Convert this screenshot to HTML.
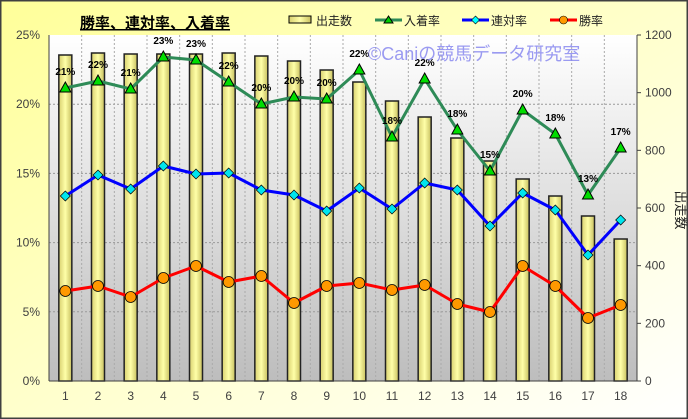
<!DOCTYPE html>
<html><head><meta charset="utf-8"><style>
html,body{margin:0;padding:0;width:688px;height:419px;overflow:hidden}
text{font-family:"Liberation Sans","Noto Sans CJK JP",sans-serif}
</style></head><body>
<svg width="688" height="419" xmlns="http://www.w3.org/2000/svg">
<defs>
<linearGradient id="bg" x1="0" y1="0" x2="1" y2="1"><stop offset="0" stop-color="#ffff99"/><stop offset="1" stop-color="#ffffff"/></linearGradient>
<linearGradient id="pa" x1="0" y1="0" x2="0" y2="1"><stop offset="0" stop-color="#ffffff"/><stop offset="1" stop-color="#bdbdbd"/></linearGradient>
<linearGradient id="bar" x1="0" y1="0" x2="1" y2="0"><stop offset="0" stop-color="#d8d070"/><stop offset="0.5" stop-color="#ffffa8"/><stop offset="1" stop-color="#c8c060"/></linearGradient>
</defs>
<rect x="0.5" y="0.5" width="687" height="418" fill="url(#bg)" stroke="#404040" stroke-width="2"/>
<rect x="49" y="35" width="588" height="346" fill="url(#pa)"/>
<g id="grid"></g>
<g id="bars"></g>
<line x1="49" y1="35" x2="49" y2="381" stroke="#404040"/>
<line x1="49" y1="381" x2="637" y2="381" stroke="#404040"/>
<line x1="637" y1="35" x2="637" y2="381" stroke="#404040"/>
<g id="lines"></g>
<g id="labels" font-size="12" fill="#404040"></g>
<text x="80" y="28" font-size="15" font-weight="bold" fill="#000" text-decoration="underline">勝率、連対率、入着率</text>
<rect x="289" y="16" width="22" height="7" fill="url(#bar)" stroke="#000"/>
<text x="316" y="25" font-size="12" fill="#222">出走数</text>
<line x1="375" y1="20" x2="402" y2="20" stroke="#2e8b57" stroke-width="3"/><polygon points="388.5,16 393,23 384,23" fill="#0c0" stroke="#000"/>
<text x="404" y="25" font-size="12" fill="#222">入着率</text>
<line x1="462" y1="20" x2="489" y2="20" stroke="#00f" stroke-width="3"/><polygon points="475.5,16 479.5,20 475.5,24 471.5,20" fill="#0ff" stroke="#000" stroke-width=".6"/>
<text x="491" y="25" font-size="12" fill="#222">連対率</text>
<line x1="550" y1="20" x2="577" y2="20" stroke="#f00" stroke-width="3"/><circle cx="563.5" cy="20" r="4" fill="#f90" stroke="#000" stroke-width=".6"/>
<text x="579" y="25" font-size="12" fill="#222">勝率</text>
<text x="368" y="60" font-size="18" fill="#8888ee" fill-opacity="0.85">©Caniの競馬データ研究室</text>
<text transform="translate(676,210) rotate(90)" font-size="13" fill="#222" text-anchor="middle">出走数</text>
</svg>
<script>
const ns="http://www.w3.org/2000/svg";
function el(p,t,a,txt){const e=document.createElementNS(ns,t);for(const k in a)e.setAttribute(k,a[k]);if(txt!==undefined)e.textContent=txt;document.getElementById(p).appendChild(e);return e;}
const L=49,R=637,T=35,B=381,cw=(R-L)/18;
const cx=i=>L+cw*(i+0.5);
for(let p=5;p<25;p+=5){const y=B-(B-T)*p/25;el('grid','line',{x1:L,y1:y,x2:R,y2:y,stroke:'#999','stroke-dasharray':'2,2'});}
for(let i=1;i<18;i++){const x=L+cw*i;el('grid','line',{x1:x,y1:T,x2:x,y2:B,stroke:'#aaa','stroke-dasharray':'2,2'});}
for(let i=0;i<18;i++){const x=L+cw*i+cw/4*3;}
const bt=[55,53,54,54,54,53,56,61,70,82,101,117,138,161,179,196,216,239];
bt.forEach((y,i)=>el('bars','rect',{x:cx(i)-6.5,y:y,width:13,height:B-y,fill:'url(#bar)',stroke:'#222','stroke-width':1.5}));
const g=[88,81,89,57,60,82,104,97,99,70,137,79,130,171,110,134,195,148];
const b=[196,175,189,166,174,173,190,195,211,188,209,183,190,226,193,210,255,220];
const r=[291,286,297,278,266,282,276,303,286,283,290,285,304,312,266,286,318,305];
const gl=['21%','22%','21%','23%','23%','22%','20%','20%','20%','22%','18%','22%','18%','15%','20%','18%','13%','17%'];
function poly(a,c){el('lines','polyline',{points:a.map((y,i)=>cx(i)+','+y).join(' '),fill:'none',stroke:c,'stroke-width':3,'stroke-linejoin':'round'});}
poly(g,'#2e8b57');poly(b,'#0000ff');poly(r,'#ff0000');
g.forEach((y,i)=>{const x=cx(i);el('lines','polygon',{points:`${x},${y-6} ${x+5.5},${y+4} ${x-5.5},${y+4}`,fill:'#00dd00',stroke:'#000'});
 el('lines','text',{x:x,y:y-13,'font-size':10,'font-weight':'bold','text-anchor':'middle',fill:'#000'},gl[i]);});
b.forEach((y,i)=>{const x=cx(i);el('lines','polygon',{points:`${x},${y-5} ${x+5},${y} ${x},${y+5} ${x-5},${y}`,fill:'#00e5ee',stroke:'#000','stroke-width':.7});});
r.forEach((y,i)=>{el('lines','circle',{cx:cx(i),cy:y,r:5.5,fill:'#ff9900',stroke:'#000','stroke-width':.8});});
for(let p=0;p<=25;p+=5){const y=B-(B-T)*p/25;el('labels','text',{x:40,y:y+4,'text-anchor':'end'},p+'%');}
for(let v=0;v<=1200;v+=200){const y=B-(B-T)*v/1200;el('labels','text',{x:645,y:y+4},v);el('lines','line',{x1:R,y1:y,x2:R+4,y2:y,stroke:'#404040'});}
for(let i=0;i<18;i++)el('labels','text',{x:cx(i),y:400,'text-anchor':'middle'},i+1);
</script>
</body></html>
